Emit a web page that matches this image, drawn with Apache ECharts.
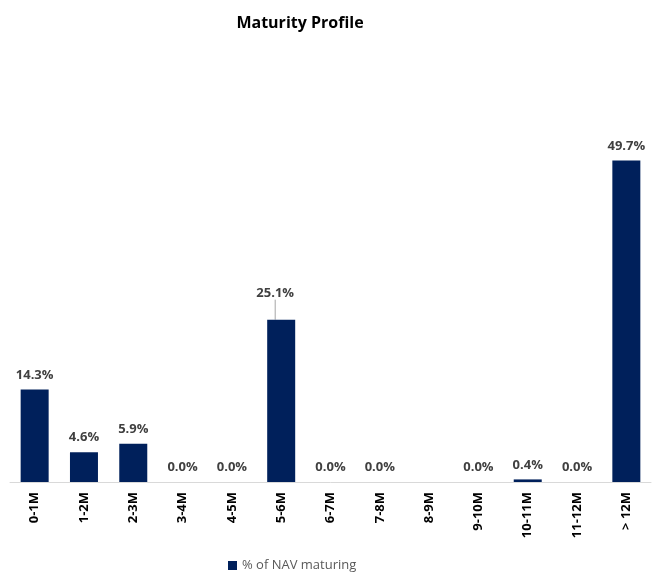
<!DOCTYPE html>
<html>
<head>
<meta charset="utf-8">
<script src="https://cdn.jsdelivr.net/npm/echarts@6/dist/echarts.min.js"></script>
<style>
  html, body { margin: 0; padding: 0; background: #fff; }
  #chart { width: 653px; height: 574px; }
</style>
</head>
<body>
<div id="chart"></div>
<script>
// maturity buckets and % of NAV in each
const buckets = ['0-1M', '1-2M', '2-3M', '3-4M', '4-5M', '5-6M', '6-7M', '7-8M', '8-9M', '9-10M', '10-11M', '11-12M', '> 12M'];
const navPct = [14.3, 4.6, 5.9, 0.0, 0.0, 25.1, 0.0, 0.0, null, 0.0, 0.4, 0.0, 49.7];
const movedLabel = 5; // the 25.1% label sits higher with a leader line

const chart = echarts.init(document.getElementById('chart'));

chart.setOption({
  animation: false,
  textStyle: { fontFamily: '"Open Sans", sans-serif' },
  title: {
    text: 'Maturity Profile',
    left: 295,
    textAlign: 'center',
    top: 10,
    textStyle: { fontSize: 16, fontWeight: 'bold', color: '#000' }
  },
  legend: {
    top: 559,
    left: 228,
    itemWidth: 9,
    itemHeight: 9,
    itemGap: 5,
    padding: 0,
    icon: 'rect',
    textStyle: { fontSize: 13, color: '#595959' },
    data: ['% of NAV maturing']
  },
  grid: { left: 10, right: 2, top: 94, bottom: 92, containLabel: false },
  xAxis: {
    type: 'category',
    data: buckets,
    axisLine: { lineStyle: { color: '#d9d9d9' } },
    axisTick: { show: false },
    axisLabel: { rotate: 90, interval: 0, margin: 10, fontSize: 13, fontWeight: 'bold', color: '#000' }
  },
  yAxis: {
    type: 'value',
    min: 0,
    max: 60,
    show: false,
    splitLine: { show: false }
  },
  series: [{
    name: '% of NAV maturing',
    type: 'bar',
    data: navPct.map((v, i) => i === movedLabel
      ? { value: v, labelLine: { show: true, lineStyle: { color: '#a6a6a6', width: 1 } } }
      : v),
    barWidth: 28,
    itemStyle: { color: '#00205b' },
    label: {
      show: true,
      position: 'top',
      distance: 8,
      fontSize: 13,
      fontWeight: 'bold',
      color: '#404040',
      formatter: p => p.value == null ? '' : p.value.toFixed(1) + '%'
    },
    labelLayout: p => (p.dataIndex === movedLabel ? { dx: -6, dy: -12 } : {}),
    labelLine: { show: false }
  }]
});
</script>
</body>
</html>
